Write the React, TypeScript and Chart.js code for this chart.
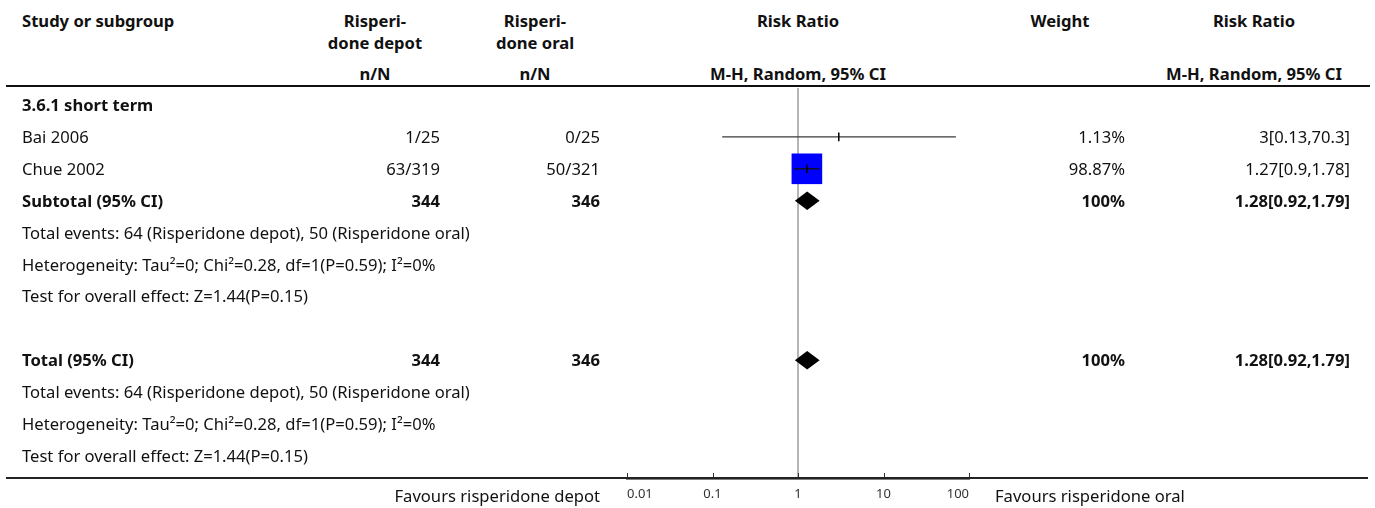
import React, { useEffect, useRef } from "react";
import { Chart, registerables } from "chart.js";

Chart.register(...registerables);

const studies = ["Bai 2006", "Chue 2002"];
const depotEvents = [1, 63];
const depotTotals = [25, 319];
const oralEvents = [0, 50];
const oralTotals = [25, 321];
const studyRR = [3, 1.27];
const studyLo = [0.13, 0.9];
const studyHi = [70.3, 1.78];
const studyWeights = [1.13, 98.87];
const studyRRText = ["3[0.13,70.3]", "1.27[0.9,1.78]"];

const pooledLabels = ["Subtotal (95% CI)", "Total (95% CI)"];
const pooledDepotN = [344, 344];
const pooledOralN = [346, 346];
const pooledRR = [1.28, 1.28];
const pooledLo = [0.92, 0.92];
const pooledHi = [1.79, 1.79];
const pooledWeight = ["100%", "100%"];
const pooledRRText = ["1.28[0.92,1.79]", "1.28[0.92,1.79]"];

const infoLines = [
  "Total events: 64 (Risperidone depot), 50 (Risperidone oral)",
  "Heterogeneity: Tau\u00b2=0; Chi\u00b2=0.28, df=1(P=0.59); I\u00b2=0%",
  "Test for overall effect: Z=1.44(P=0.15)",
];

const axisTicks = [0.01, 0.1, 1, 10, 100];

// row indices (row units)
const studyRows = [1, 2];
const pooledRows = [3, 8];
const infoRowsA = [4, 5, 6];
const infoRowsB = [9, 10, 11];
const Y_MIN = -0.533;
const Y_MAX = 11.693;

const W = 1375;
const H = 508;
const ROW0 = 105;
const ROWH = 31.9;
const FONT = "'Noto Sans', sans-serif";
const FS = 16.6;
const rowY = (i: number) => ROW0 + ROWH * i;

type TxtProps = { x: number; y: number; align?: "left" | "right" | "center"; bold?: boolean; size?: number; color?: string; children: React.ReactNode };
function Txt({ x, y, align = "left", bold = false, size = FS, color = "#111", children }: TxtProps) {
  const style: React.CSSProperties = {
    position: "absolute",
    top: y - 11,
    height: 22,
    lineHeight: "22px",
    fontSize: size,
    fontWeight: bold ? 700 : 400,
    fontFamily: FONT,
    color,
    whiteSpace: "nowrap",
  };
  if (align === "left") style.left = x;
  else if (align === "right") style.right = W - x;
  else {
    style.left = x;
    style.transform = "translateX(-50%)";
  }
  return <div style={style}>{children}</div>;
}

const diamondPlugin = {
  id: "diamonds",
  afterDatasetsDraw(chart: any) {
    const { ctx, scales } = chart;
    const xs = scales.x;
    const ys = scales.y;
    ctx.save();
    ctx.fillStyle = "#000";
    pooledRows.forEach((r, i) => {
      const yc = ys.getPixelForValue(r);
      const yt = ys.getPixelForValue(r - 0.29);
      const yb = ys.getPixelForValue(r + 0.29);
      ctx.beginPath();
      ctx.moveTo(xs.getPixelForValue(pooledLo[i]), yc);
      ctx.lineTo(xs.getPixelForValue(pooledRR[i]), yt);
      ctx.lineTo(xs.getPixelForValue(pooledHi[i]), yc);
      ctx.lineTo(xs.getPixelForValue(pooledRR[i]), yb);
      ctx.closePath();
      ctx.fill();
    });
    // tick marks above the axis line
    ctx.strokeStyle = "#333";
    ctx.lineWidth = 1;
    const bottom = chart.chartArea.bottom;
    axisTicks.forEach((t) => {
      const px = Math.round(xs.getPixelForValue(t)) + 0.5;
      ctx.beginPath();
      ctx.moveTo(px, bottom - 5);
      ctx.lineTo(px, bottom);
      ctx.stroke();
    });
    ctx.restore();
  },
};

function ForestChart() {
  const ref = useRef<HTMLCanvasElement | null>(null);
  useEffect(() => {
    if (!ref.current) return;
    const datasets: any[] = [];
    // estimate tick marks (drawn on top)
    datasets.push({
      data: studyRR.map((v, i) => ({ x: v, y: studyRows[i] })),
      pointStyle: "line",
      rotation: 90,
      pointRadius: 4.3,
      borderColor: "#000",
      borderWidth: 1.5,
      showLine: false,
      order: 0,
    });
    // CI lines
    studies.forEach((_, i) => {
      datasets.push({
        data: [
          { x: studyLo[i], y: studyRows[i] },
          { x: studyHi[i], y: studyRows[i] },
        ],
        showLine: true,
        borderColor: i === 0 ? "#3a3a3a" : "#111",
        borderWidth: 1.4,
        pointRadius: 0,
        order: 1,
      });
    });
    // weight squares
    datasets.push({
      data: studyRR.map((v, i) => ({ x: v, y: studyRows[i] })),
      pointStyle: "rect",
      pointRadius: studyWeights.map((w) => (w < 5 ? 0 : (w / 100) * 21.9)),
      backgroundColor: "#0000ff",
      borderWidth: 0,
      showLine: false,
      order: 2,
    });
    // line of no effect
    datasets.push({
      data: [
        { x: 1, y: Y_MIN },
        { x: 1, y: Y_MAX },
      ],
      showLine: true,
      borderColor: "#a3a3a3",
      borderWidth: 1.6,
      pointRadius: 0,
      order: 3,
    });

    const chart = new Chart(ref.current, {
      type: "scatter",
      data: { datasets },
      options: {
        animation: false,
        responsive: false,
        devicePixelRatio: 1,
        layout: { padding: { left: 627, right: W - 969, top: 88, bottom: 0 } },
        plugins: { legend: { display: false }, tooltip: { enabled: false } },
        scales: {
          x: {
            type: "logarithmic",
            min: 0.01,
            max: 100,
            afterBuildTicks: (s: any) => {
              s.ticks = axisTicks.map((v) => ({ value: v }));
            },
            afterFit: (s: any) => {
              s.height = 30;
            },
            grid: { display: false, drawTicks: false },
            border: { display: true, color: "#000", width: 2.5 },
            ticks: {
              autoSkip: false,
              maxRotation: 0,
              align: "inner",
              padding: 8,
              color: "#333",
              font: { family: FONT, size: 13 },
              callback: (v: any) => String(v),
            },
          },
          y: {
            type: "linear",
            display: false,
            min: Y_MIN,
            max: Y_MAX,
            reverse: true,
          },
        },
      },
      plugins: [diamondPlugin],
    } as any);
    return () => chart.destroy();
  }, []);
  return <canvas ref={ref} width={W} height={H} style={{ position: "absolute", left: 0, top: 0, width: W, height: H }} />;
}

export default function App() {
  return (
    <div style={{ position: "fixed", left: 0, top: 0, width: W, height: H, background: "#fff", overflow: "hidden" }}>
      {/* header */}
      <Txt x={22} y={21} bold>Study or subgroup</Txt>
      <Txt x={375} y={21} align="center" bold>Risperi-</Txt>
      <Txt x={375} y={43} align="center" bold>done depot</Txt>
      <Txt x={535} y={21} align="center" bold>Risperi-</Txt>
      <Txt x={535} y={43} align="center" bold>done oral</Txt>
      <Txt x={375} y={74} align="center" bold>n/N</Txt>
      <Txt x={535} y={74} align="center" bold>n/N</Txt>
      <Txt x={798} y={21} align="center" bold>Risk Ratio</Txt>
      <Txt x={798} y={74} align="center" bold>M-H, Random, 95% CI</Txt>
      <Txt x={1060} y={21} align="center" bold>Weight</Txt>
      <Txt x={1254} y={21} align="center" bold>Risk Ratio</Txt>
      <Txt x={1254} y={74} align="center" bold>M-H, Random, 95% CI</Txt>
      <div style={{ position: "absolute", left: 6, top: 85, width: 1364, height: 2, background: "#111" }} />

      <ForestChart />

      <Txt x={22} y={rowY(0)} bold>3.6.1 short term</Txt>
      {studies.map((s, i) => (
        <React.Fragment key={s}>
          <Txt x={22} y={rowY(studyRows[i])}>{s}</Txt>
          <Txt x={440} y={rowY(studyRows[i])} align="right">{`${depotEvents[i]}/${depotTotals[i]}`}</Txt>
          <Txt x={600} y={rowY(studyRows[i])} align="right">{`${oralEvents[i]}/${oralTotals[i]}`}</Txt>
          <Txt x={1125} y={rowY(studyRows[i])} align="right">{`${studyWeights[i].toFixed(2)}%`}</Txt>
          <Txt x={1350} y={rowY(studyRows[i])} align="right">{studyRRText[i]}</Txt>
        </React.Fragment>
      ))}
      {pooledLabels.map((p, i) => (
        <React.Fragment key={p}>
          <Txt x={22} y={rowY(pooledRows[i])} bold>{p}</Txt>
          <Txt x={440} y={rowY(pooledRows[i])} align="right" bold>{String(pooledDepotN[i])}</Txt>
          <Txt x={600} y={rowY(pooledRows[i])} align="right" bold>{String(pooledOralN[i])}</Txt>
          <Txt x={1125} y={rowY(pooledRows[i])} align="right" bold>{pooledWeight[i]}</Txt>
          <Txt x={1350} y={rowY(pooledRows[i])} align="right" bold>{pooledRRText[i]}</Txt>
        </React.Fragment>
      ))}
      {infoLines.map((t, i) => (
        <React.Fragment key={t}>
          <Txt x={22} y={rowY(infoRowsA[i])}>{t}</Txt>
          <Txt x={22} y={rowY(infoRowsB[i])}>{t}</Txt>
        </React.Fragment>
      ))}

      <div style={{ position: "absolute", left: 6, top: 477, width: 1362, height: 2, background: "#222" }} />
      <Txt x={600} y={496} align="right">Favours risperidone depot</Txt>
      <Txt x={995} y={496}>Favours risperidone oral</Txt>
    </div>
  );
}
